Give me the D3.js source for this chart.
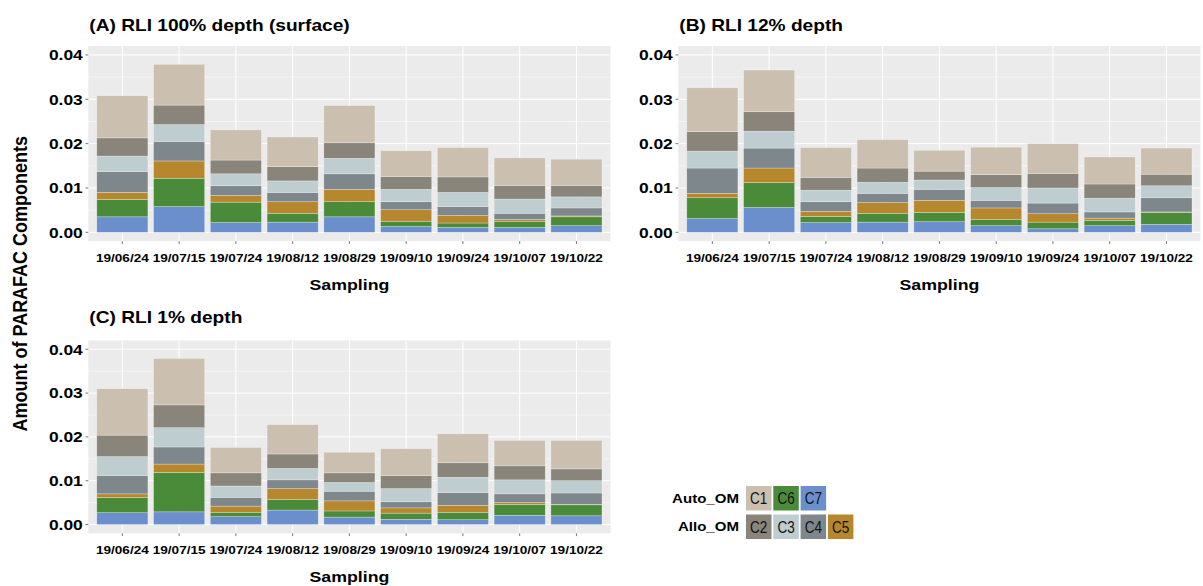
<!DOCTYPE html>
<html>
<head>
<meta charset="utf-8">
<script src="https://cdn.jsdelivr.net/npm/d3@7"></script>
<style>
  html, body { margin: 0; padding: 0; background: #ffffff; }
  svg { display: block; }
</style>
</head>
<body>
<svg id="chart" width="1203" height="586"></svg>
<script>
// ---------------- data ----------------
const samplingDates = ["19/06/24", "19/07/15", "19/07/24", "19/08/12", "19/08/29", "19/09/10", "19/09/24", "19/10/07", "19/10/22"];
const components = ["C1", "C2", "C3", "C4", "C5", "C6", "C7"];
const stackOrder = ["C7", "C6", "C5", "C4", "C3", "C2", "C1"]; // bottom -> top
const panelTitles = ["(A) RLI 100% depth (surface)", "(B) RLI 12% depth", "(C) RLI 1% depth"];
const yTicks = [0, 0.01, 0.02, 0.03, 0.04];
const yTickLabels = ["0.00", "0.01", "0.02", "0.03", "0.04"];
const xAxisTitle = "Sampling";
const yAxisTitle = "Amount of PARAFAC Components";
const legendGroups = ["Auto_OM", "Allo_OM"];
const autoOM = ["C1", "C6", "C7"];
const alloOM = ["C2", "C3", "C4", "C5"];

// (A) RLI 100% depth (surface)
const surfaceC1 = [0.0095, 0.0092, 0.0068, 0.0067, 0.0084, 0.0058, 0.0066, 0.0062, 0.0059];
const surfaceC2 = [0.0041, 0.0044, 0.0031, 0.0032, 0.0035, 0.0029, 0.0035, 0.0031, 0.0026];
const surfaceC3 = [0.0035, 0.0038, 0.0027, 0.0026, 0.0035, 0.0028, 0.0032, 0.0032, 0.0025];
const surfaceC4 = [0.0047, 0.0044, 0.0022, 0.0021, 0.0035, 0.0018, 0.0020, 0.0014, 0.0018];
const surfaceC5 = [0.0016, 0.0039, 0.0015, 0.0026, 0.0028, 0.0026, 0.0017, 0.0004, 0.0002];
const surfaceC6 = [0.0039, 0.0064, 0.0046, 0.0020, 0.0034, 0.0012, 0.0010, 0.0014, 0.0020];
const surfaceC7 = [0.0035, 0.0058, 0.0022, 0.0023, 0.0035, 0.0013, 0.0011, 0.0011, 0.0015];

// (B) RLI 12% depth
const depth12C1 = [0.0099, 0.0094, 0.0067, 0.0064, 0.0047, 0.0062, 0.0067, 0.0061, 0.0059];
const depth12C2 = [0.0044, 0.0044, 0.0029, 0.0032, 0.0020, 0.0029, 0.0033, 0.0032, 0.0026];
const depth12C3 = [0.0038, 0.0038, 0.0026, 0.0025, 0.0021, 0.0029, 0.0034, 0.0031, 0.0027];
const depth12C4 = [0.0057, 0.0045, 0.0022, 0.0021, 0.0025, 0.0017, 0.0024, 0.0014, 0.0032];
const depth12C5 = [0.0010, 0.0033, 0.0011, 0.0024, 0.0027, 0.0026, 0.0019, 0.0005, 0.0001];
const depth12C6 = [0.0047, 0.0056, 0.0014, 0.0020, 0.0021, 0.0014, 0.0015, 0.0012, 0.0027];
const depth12C7 = [0.0031, 0.0056, 0.0022, 0.0023, 0.0024, 0.0015, 0.0008, 0.0015, 0.0018];

// (C) RLI 1% depth
const depth1C1 = [0.0106, 0.0106, 0.0058, 0.0067, 0.0047, 0.0061, 0.0066, 0.0058, 0.0065];
const depth1C2 = [0.0049, 0.0052, 0.0030, 0.0033, 0.0022, 0.0030, 0.0033, 0.0032, 0.0027];
const depth1C3 = [0.0043, 0.0044, 0.0026, 0.0026, 0.0020, 0.0030, 0.0035, 0.0032, 0.0028];
const depth1C4 = [0.0042, 0.0039, 0.0020, 0.0020, 0.0022, 0.0014, 0.0029, 0.0020, 0.0026];
const depth1C5 = [0.0008, 0.0019, 0.0014, 0.0025, 0.0023, 0.0012, 0.0016, 0.0004, 0.0001];
const depth1C6 = [0.0035, 0.0090, 0.0010, 0.0024, 0.0014, 0.0014, 0.0017, 0.0025, 0.0025];
const depth1C7 = [0.0027, 0.0029, 0.0018, 0.0033, 0.0017, 0.0012, 0.0011, 0.0021, 0.0020];

// ---------------- styling ----------------
const colors = {
  C1: "#cbbfb0", C2: "#8a857a", C3: "#becdd0", C4: "#7d878c",
  C5: "#b7872d", C6: "#4a8b3a", C7: "#6b8fcc"
};
const FONT = '"Liberation Sans", Arial, Helvetica, sans-serif';
const SX = 1.16; // horizontal stretch of the reference image's text

function buildRows(series) {
  return samplingDates.map((d, i) => {
    const row = { date: d };
    components.forEach((c, k) => { row[c] = series[k][i]; });
    return row;
  });
}

const panelData = [
  buildRows([surfaceC1, surfaceC2, surfaceC3, surfaceC4, surfaceC5, surfaceC6, surfaceC7]),
  buildRows([depth12C1, depth12C2, depth12C3, depth12C4, depth12C5, depth12C6, depth12C7]),
  buildRows([depth1C1, depth1C2, depth1C3, depth1C4, depth1C5, depth1C6, depth1C7])
];

const layouts = [
  { x0: 88.3, x1: 610.5, y0: 46.1, y1: 241.2, titleY: 30.6 },
  { x0: 678.3, x1: 1200.5, y0: 46.1, y1: 241.2, titleY: 30.6 },
  { x0: 88.3, x1: 610.5, y0: 340.5, y1: 533.3, titleY: 322.6 }
];

const svg = d3.select("#chart");

function addText(parent, x, y, str, size, opts = {}) {
  const sx = opts.sx == null ? SX : opts.sx;
  let tr = `translate(${x},${y}) scale(${sx},1)`;
  if (opts.rotate) tr += ` rotate(${opts.rotate})`;
  return parent.append("text")
    .attr("transform", tr)
    .attr("text-anchor", opts.anchor || "start")
    .style("font-family", FONT)
    .style("font-size", size + "px")
    .style("font-weight", opts.weight || "bold")
    .style("fill", opts.fill || "#000")
    .text(str);
}

const stack = d3.stack().keys(stackOrder);

panelData.forEach((rows, p) => {
  const L = layouts[p];
  const g = svg.append("g");

  const x = d3.scaleBand().domain(samplingDates).range([L.x0, L.x1])
    .paddingInner(0.1).paddingOuter(0.15);
  const y = d3.scaleLinear().domain([-0.002, 0.042]).range([L.y1, L.y0]);

  // panel background
  g.append("rect").attr("x", L.x0).attr("y", L.y0)
    .attr("width", L.x1 - L.x0).attr("height", L.y1 - L.y0).attr("fill", "#ebebeb");

  // minor grid
  const minor = [0.005, 0.015, 0.025, 0.035];
  g.selectAll(".gminor").data(minor).enter().append("line")
    .attr("x1", L.x0).attr("x2", L.x1)
    .attr("y1", d => y(d)).attr("y2", d => y(d))
    .attr("stroke", "#ffffff").attr("stroke-width", 0.5);
  // major grid
  g.selectAll(".gmajor").data(yTicks).enter().append("line")
    .attr("x1", L.x0).attr("x2", L.x1)
    .attr("y1", d => y(d)).attr("y2", d => y(d))
    .attr("stroke", "#ffffff").attr("stroke-width", 1);
  g.selectAll(".gvert").data(samplingDates).enter().append("line")
    .attr("x1", d => x(d) + x.bandwidth() / 2).attr("x2", d => x(d) + x.bandwidth() / 2)
    .attr("y1", L.y0).attr("y2", L.y1)
    .attr("stroke", "#ffffff").attr("stroke-width", 1);

  // stacked bars
  const series = stack(rows);
  g.selectAll(".layer").data(series).enter().append("g")
    .attr("fill", s => colors[s.key])
    .selectAll("rect").data(s => s).enter().append("rect")
    .attr("x", d => x(d.data.date))
    .attr("width", x.bandwidth())
    .attr("y", d => y(d[1]))
    .attr("height", d => Math.max(0, y(d[0]) - y(d[1])))
    .attr("stroke", "rgba(255,255,255,0.45)")
    .attr("stroke-width", 0.6);

  // axis ticks
  g.selectAll(".ytick").data(yTicks).enter().append("line")
    .attr("x1", L.x0 - 2.8).attr("x2", L.x0)
    .attr("y1", d => y(d)).attr("y2", d => y(d))
    .attr("stroke", "#555").attr("stroke-width", 0.8);
  g.selectAll(".xtick").data(samplingDates).enter().append("line")
    .attr("x1", d => x(d) + x.bandwidth() / 2).attr("x2", d => x(d) + x.bandwidth() / 2)
    .attr("y1", L.y1).attr("y2", L.y1 + 2.8)
    .attr("stroke", "#555").attr("stroke-width", 0.8);

  // tick labels
  yTicks.forEach((t, i) => {
    addText(g, L.x0 - 5.5, y(t) + 5.4, yTickLabels[i], 15, { anchor: "end" });
  });
  samplingDates.forEach(d => {
    addText(g, x(d) + x.bandwidth() / 2, L.y1 + 20.5, d, 11.7, { anchor: "middle" });
  });

  // axis title & panel title
  addText(g, (L.x0 + L.x1) / 2, L.y1 + 49, xAxisTitle, 15.3, { anchor: "middle" });
  addText(g, L.x0 + 1, L.titleY, panelTitles[p], 16.5, { anchor: "start" });
});

// shared y-axis title
addText(svg, 26.7, 283.7, yAxisTitle, 18, { anchor: "middle", rotate: -90 });

// legend
const legend = svg.append("g");
const boxW = 25.5, boxH = 24.5, boxStep = 27.3, boxX0 = 746;
const rowsTop = [486, 514.5];
[autoOM, alloOM].forEach((keys, r) => {
  addText(legend, 739, rowsTop[r] + boxH / 2 + 4.7, legendGroups[r], 13, { anchor: "end" });
  keys.forEach((k, i) => {
    const bx = boxX0 + i * boxStep;
    legend.append("rect").attr("x", bx).attr("y", rowsTop[r])
      .attr("width", boxW).attr("height", boxH).attr("fill", colors[k]);
    addText(legend, bx + boxW / 2, rowsTop[r] + boxH / 2 + 6, k, 16.5,
      { anchor: "middle", weight: "normal", sx: 0.82, fill: "#111" });
  });
});
</script>
</body>
</html>
